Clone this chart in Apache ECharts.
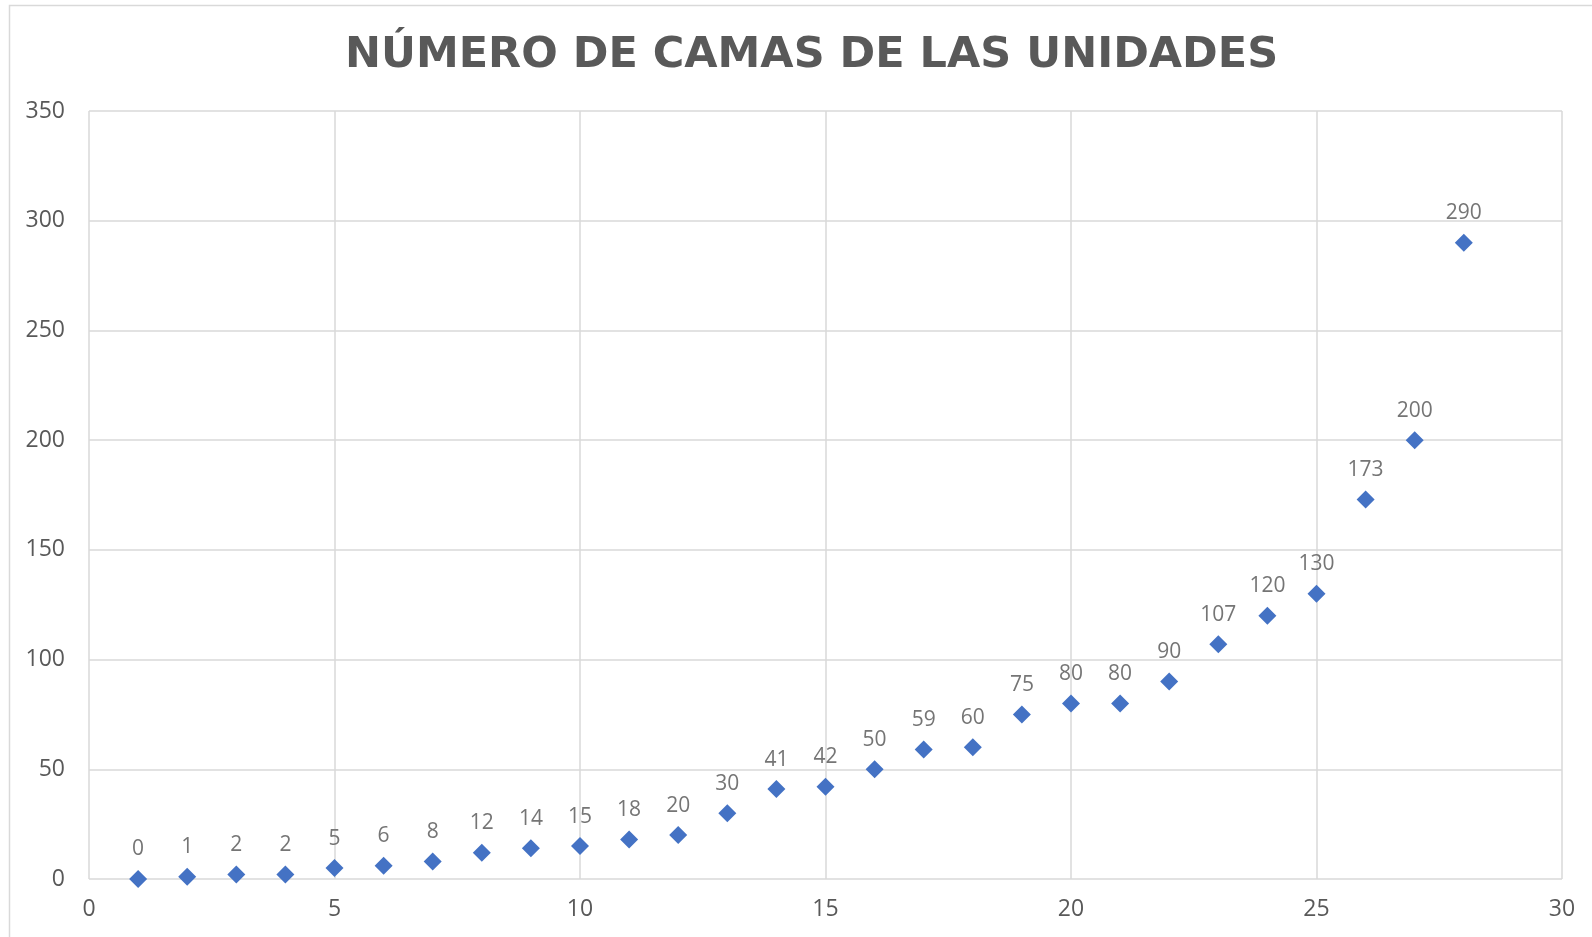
<!DOCTYPE html>
<html><head><meta charset="utf-8">
<script src="https://cdn.jsdelivr.net/npm/echarts@6/dist/echarts.min.js"></script>
<style>html,body{margin:0;padding:0;background:#fff}#c{width:1592px;height:937px}</style>
</head><body><div id="c"></div>
<script>
const units = [1,2,3,4,5,6,7,8,9,10,11,12,13,14,15,16,17,18,19,20,21,22,23,24,25,26,27,28];
const beds = [0,1,2,2,5,6,8,12,14,15,18,20,30,41,42,50,59,60,75,80,80,90,107,120,130,173,200,290];
const titleText = 'NÚMERO DE CAMAS DE LAS UNIDADES';

const chart = echarts.init(document.getElementById('c'));
chart.setOption({
  backgroundColor: '#fff',
  animation: false,
  title: {
    text: titleText,
    left: 340,
    top: 29,
    textStyle: {fontFamily: 'DejaVu Sans', fontWeight: 'bold', fontSize: 43, color: '#595959'}
  },
  graphic: [{
    type: 'rect', shape: {x: 9.5, y: 5.5, width: 1700, height: 1000},
    style: {fill: 'none', stroke: '#d9d9d9', lineWidth: 1.5}, silent: true, z: -1
  }],
  grid: {left: 89, right: 30, top: 111, bottom: 58},
  xAxis: {
    type: 'value', min: 0, max: 30, interval: 5,
    axisLine: {show: false}, axisTick: {show: false},
    splitLine: {show: true, lineStyle: {color: '#d9d9d9', width: 1.5}},
    axisLabel: {fontFamily: 'Open Sans', fontSize: 23, color: '#595959', margin: 19}
  },
  yAxis: {
    type: 'value', min: 0, max: 350, interval: 50,
    axisLine: {show: false}, axisTick: {show: false},
    splitLine: {show: true, lineStyle: {color: '#d9d9d9', width: 1.5}},
    axisLabel: {fontFamily: 'Open Sans', fontSize: 23, color: '#595959', margin: 24}
  },
  series: [{
    type: 'scatter',
    data: units.map((u, i) => [u, beds[i]]),
    symbol: 'diamond',
    symbolSize: 18,
    itemStyle: {color: '#4472C4', opacity: 1},
    label: {
      show: true, position: 'top', distance: 10,
      formatter: p => p.value[1],
      fontFamily: 'Open Sans', fontSize: 21, color: '#757575'
    }
  }]
});
</script></body></html>
